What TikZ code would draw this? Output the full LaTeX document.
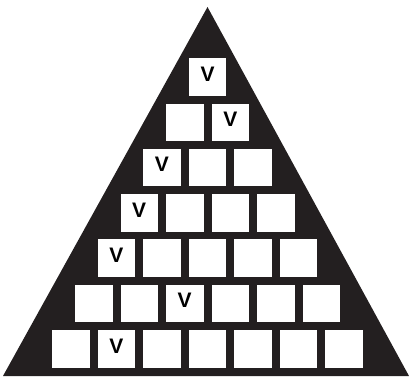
\documentclass[tikz,border=0pt]{standalone}
\usepackage{fontspec}
\setsansfont{Liberation Sans}
\definecolor{pyrblack}{HTML}{231F20}

\begin{document}
\begin{tikzpicture}[x=1pt, y=-1pt,
    cell/.style={fill=white, minimum size=37.5pt, inner sep=0pt},
    vtext/.style={font=\sffamily\bfseries\fontsize{21}{21}\selectfont, yshift=3pt}]
    \useasboundingbox (0,0) rectangle (409,377);
    % 三角形
    \fill[pyrblack] (207.5,7) -- (409,376) -- (3,376) -- cycle;
    % 方格
    \foreach \r in {1,...,7}
        \foreach \c in {1,...,\r}
            \node[cell] (s-\r-\c) at ({207.5+(\c-(\r+1)/2)*45.5}, {77+(\r-1)*45.3}) {};
    % 标记 V
    \foreach \r/\c in {1/1, 2/2, 3/1, 4/1, 5/1, 6/3, 7/2}
        \node[vtext] (v-\r) at (s-\r-\c) {V};
\end{tikzpicture}
\end{document}
